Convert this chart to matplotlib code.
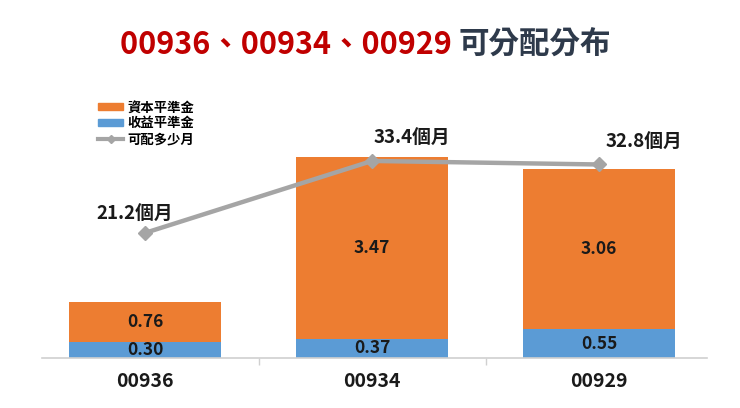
import matplotlib
matplotlib.use("Agg")
import matplotlib.pyplot as plt
from matplotlib.patches import Patch
from matplotlib.lines import Line2D

plt.rcParams['font.family'] = ['Noto Sans CJK TC', 'DejaVu Sans']

categories = ["00936", "00934", "00929"]
income_eq = [0.30, 0.37, 0.55]      # 收益平準金
capital_eq = [0.76, 3.47, 3.06]     # 資本平準金
months = [21.2, 33.4, 32.8]         # 可配多少月
month_labels = ["21.2個月", "33.4個月", "32.8個月"]

ORANGE = "#ED7D31"
BLUE = "#5B9BD5"
GRAY = "#A5A5A5"

fig = plt.figure(figsize=(7.4, 4.08), dpi=100)
ax = fig.add_axes([31.5 / 740, 50 / 408, 681 / 740, 236 / 408])

x = list(range(len(categories)))
w = 0.674
ax.bar(x, income_eq, width=w, color=BLUE, zorder=2)
ax.bar(x, capital_eq, width=w, bottom=income_eq, color=ORANGE, zorder=2)

for i in x:
    ax.text(i, income_eq[i] / 2, f"{income_eq[i]:.2f}", ha="center", va="center",
            fontsize=12.5, fontweight="bold", color="#1a1a1a", zorder=5)
    ax.text(i, income_eq[i] + capital_eq[i] / 2, f"{capital_eq[i]:.2f}", ha="center",
            va="center", fontsize=12.5, fontweight="bold", color="#1a1a1a", zorder=5)

ax.set_xlim(-0.5, 2.5)
ax.set_ylim(0, 4.5)
ax.set_yticks([])
for s in ["top", "left", "right"]:
    ax.spines[s].set_visible(False)
ax.spines["bottom"].set_color("#D0D0D0")
ax.spines["bottom"].set_linewidth(1.2)
ax.spines["bottom"].set_bounds(-0.454, 2.476)
ax.set_xticks(x)
ax.set_xticklabels(categories, fontsize=14, fontweight="bold", color="#1a1a1a")
ax.tick_params(axis="x", which="major", length=0, pad=10)
ax.set_xticks([0.5, 1.5], minor=True)
ax.tick_params(axis="x", which="minor", length=5, color="#D0D0D0", width=1)

ax2 = ax.twinx()
ax2.set_ylim(0, 40)
ax2.set_yticks([])
for s in ["top", "left", "right", "bottom"]:
    ax2.spines[s].set_visible(False)
ax2.plot(x, months, color=GRAY, linewidth=3.2, marker="D", markersize=7.5,
         markerfacecolor=GRAY, markeredgecolor=GRAY, zorder=4)
offsets = [(-10, 19), (40, 24), (45, 23)]
for i in x:
    ax2.annotate(month_labels[i], (i, months[i]), xytext=offsets[i],
                 textcoords="offset pixels", ha="center", va="center",
                 fontsize=13.5, fontweight="bold", color="#1a1a1a")

handles = [Patch(color=ORANGE), Patch(color=BLUE),
           Line2D([0], [0], color=GRAY, linewidth=3, marker="D", markersize=4)]
leg = fig.legend(handles, ["資本平準金", "收益平準金", "可配多少月"],
                 loc="upper left", bbox_to_anchor=(93 / 740, 1 - 95 / 408),
                 frameon=False, fontsize=9.6, handlelength=1.85, handleheight=0.5,
                 handletextpad=0.3, labelspacing=0.15, borderaxespad=0)
for t in leg.get_texts():
    t.set_fontweight("bold")

# Title
ty = 1 - 45 / 408
t1 = fig.text(0.5, ty, "00936、00934、00929 ", ha="right", va="center",
              fontsize=22, fontweight="bold", color="#C00000")
t2 = fig.text(0.5, ty, "可分配分布", ha="left", va="center",
              fontsize=22, fontweight="bold", color="#2E3A4B")
fig.canvas.draw()
r = fig.canvas.get_renderer()
bb1 = t1.get_window_extent(r)
bb2 = t2.get_window_extent(r)
total = bb1.width + bb2.width
start = (123 + 608) / 2 - total / 2
t1.set_position(((start + bb1.width) / 740, ty))
t2.set_position(((start + bb1.width) / 740, ty))

fig.savefig("out.png", dpi=100)
